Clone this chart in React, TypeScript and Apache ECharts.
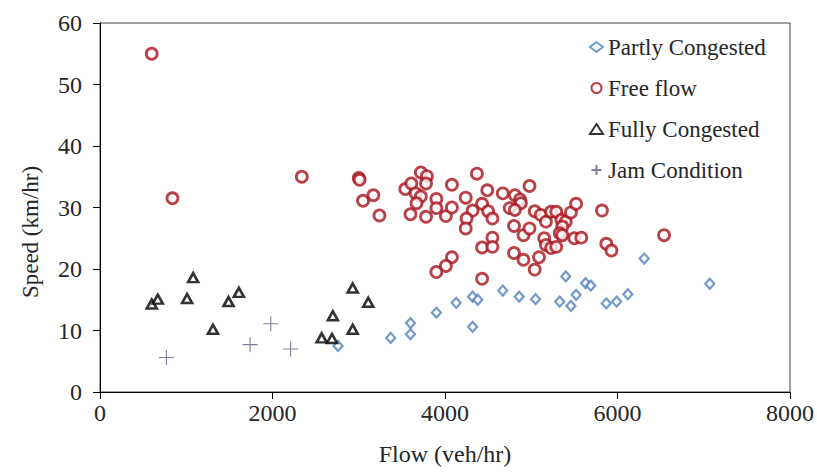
import React, { useEffect, useRef } from "react";
import * as echarts from "echarts";

// Flow (veh/hr), Speed (km/hr) pairs per traffic state
const partlyCongested: [number, number][] = [
  [2760, 7.5], [3370, 8.8], [3600, 11.2], [3600, 9.4], [3900, 12.9], [4130, 14.5],
  [4320, 15.5], [4380, 15.0], [4320, 10.6], [4670, 16.5], [4860, 15.5], [5050, 15.1],
  [5330, 14.7], [5400, 18.8], [5460, 14.0], [5520, 15.8], [5630, 17.7], [5690, 17.3],
  [5870, 14.4], [5990, 14.7], [6120, 15.9], [6310, 21.7], [7070, 17.6],
];

const freeFlow: [number, number][] = [
  [600, 55], [840, 31.5], [2340, 35], [3000, 34.8], [3010, 34.5], [3050, 31.1], [3170, 32],
  [3240, 28.7], [3540, 33], [3610, 33.9], [3720, 35.7], [3790, 35.1], [3780, 33.9],
  [3660, 32.3], [3720, 31.8], [3670, 30.7], [3600, 28.9], [3780, 28.5], [3900, 31.4],
  [3900, 29.9], [4010, 28.6], [4080, 30.0], [4080, 33.7], [4370, 35.5], [4240, 31.6],
  [4490, 32.8], [4430, 30.6], [4320, 29.5], [4250, 28.2], [4240, 26.6], [4500, 29.4],
  [4550, 28.2], [4670, 32.3], [4810, 32], [4870, 31.3], [4880, 30.7], [4750, 29.9],
  [4810, 29.6], [4800, 27], [4910, 25.5], [4550, 25.1], [4430, 23.5], [4550, 23.6],
  [4800, 22.6], [4910, 21.5], [4080, 21.9], [4010, 20.5], [3900, 19.5], [4430, 18.4],
  [4980, 33.5], [5040, 29.4], [5110, 28.8], [5170, 27.7], [5230, 29.3], [5290, 29.3],
  [5350, 28], [5400, 27.7], [5360, 26.9], [5330, 25.8], [5360, 25.5], [5460, 29.2],
  [5520, 30.6], [4980, 26.6], [5040, 19.9], [5090, 21.9], [5150, 25], [5170, 23.9],
  [5230, 23.4], [5290, 23.6], [5500, 25.0], [5580, 25.1], [5820, 29.5], [5870, 24.1],
  [5930, 23], [6540, 25.5],
];

const fullyCongested: [number, number][] = [
  [600, 14.3], [670, 15.1], [1080, 18.6], [1010, 15.2], [1310, 10.2], [1490, 14.7],
  [1610, 16.2], [2570, 8.8], [2690, 8.7], [2700, 12.4], [2930, 16.9], [2930, 10.2],
  [3110, 14.6],
];

const jamCondition: [number, number][] = [
  [770, 5.6], [1740, 7.7], [1980, 11.1], [2210, 7.0],
];

const seriesNames = ["Partly Congested", "Free flow", "Fully Congested", "Jam Condition"];
const xTicks = { min: 0, max: 8000, interval: 2000 };
const yTicks = { min: 0, max: 60, interval: 10 };

const FONT = "'Liberation Serif', 'Times New Roman', serif";
const TEXT = "#262626";

export default function App() {
  const ref = useRef<HTMLDivElement>(null);

  useEffect(() => {
    document.body.style.margin = "0";
    if (!ref.current) return;
    const chart = echarts.init(ref.current, null, { renderer: "svg" });
    chart.setOption({
      animation: false,
      backgroundColor: "#ffffff",
      textStyle: { fontFamily: FONT },
      grid: {
        left: 100,
        top: 23,
        right: 26,
        bottom: 80,
        show: true,
        borderColor: "#404040",
        borderWidth: 1,
        backgroundColor: "transparent",
      },
      legend: {
        orient: "vertical",
        left: 584,
        top: 30,
        itemGap: 17,
        itemWidth: 13,
        itemHeight: 10,
        data: seriesNames,
        textStyle: { fontFamily: FONT, fontSize: 23, color: TEXT, lineHeight: 24 },
      },
      xAxis: {
        type: "value",
        min: xTicks.min,
        max: xTicks.max,
        interval: xTicks.interval,
        name: "Flow (veh/hr)",
        nameLocation: "middle",
        nameGap: 50,
        nameTextStyle: { fontFamily: FONT, fontSize: 24, color: TEXT },
        axisLine: { show: true, lineStyle: { color: "#000", width: 1 } },
        axisTick: { show: true, inside: false, length: 7, lineStyle: { color: "#000" } },
        axisLabel: {
          fontFamily: FONT,
          fontSize: 24,
          color: TEXT,
          margin: 9,
          formatter: (v: number) => String(v),
        },
        splitLine: { show: false },
      },
      yAxis: {
        type: "value",
        min: yTicks.min,
        max: yTicks.max,
        interval: yTicks.interval,
        axisLine: { show: true, lineStyle: { color: "#000", width: 1 } },
        axisTick: { show: true, inside: false, length: 7, lineStyle: { color: "#000" } },
        axisLabel: {
          fontFamily: FONT,
          fontSize: 24,
          color: TEXT,
          margin: 18,
          formatter: (v: number) => String(v),
        },
        splitLine: { show: false },
      },
      graphic: [
        {
          type: "text",
          x: 30,
          y: 232,
          rotation: Math.PI / 2,
          style: {
            text: "Speed (km/hr)",
            font: `23px ${FONT}`,
            fill: TEXT,
            align: "center",
            verticalAlign: "middle",
          },
        },
      ],
      series: [
        {
          name: seriesNames[0],
          type: "scatter",
          data: partlyCongested,
          symbol: "diamond",
          symbolSize: [9, 10],
          z: 2,
          itemStyle: { color: "#ffffff", borderColor: "#4f81bd", borderWidth: 2.2 },
        },
        {
          name: seriesNames[1],
          type: "scatter",
          data: freeFlow,
          symbol: "circle",
          symbolSize: 11,
          z: 3,
          itemStyle: { color: "#ffffff", borderColor: "#a8121a", borderWidth: 2.8 },
        },
        {
          name: seriesNames[2],
          type: "scatter",
          data: fullyCongested,
          symbol: "triangle",
          symbolSize: [10, 9],
          z: 4,
          itemStyle: { color: "#ffffff", borderColor: "#000000", borderWidth: 2.6 },
        },
        {
          name: seriesNames[3],
          type: "scatter",
          data: jamCondition,
          symbol: "path://M5,0 L5,10 M0,5 L10,5",
          symbolSize: 15,
          z: 5,
          itemStyle: { color: "none", borderColor: "#5e5e86", borderWidth: 1.1 },
        },
      ],
    });
    return () => chart.dispose();
  }, []);

  return <div ref={ref} style={{ width: 817, height: 472 }} />;
}
